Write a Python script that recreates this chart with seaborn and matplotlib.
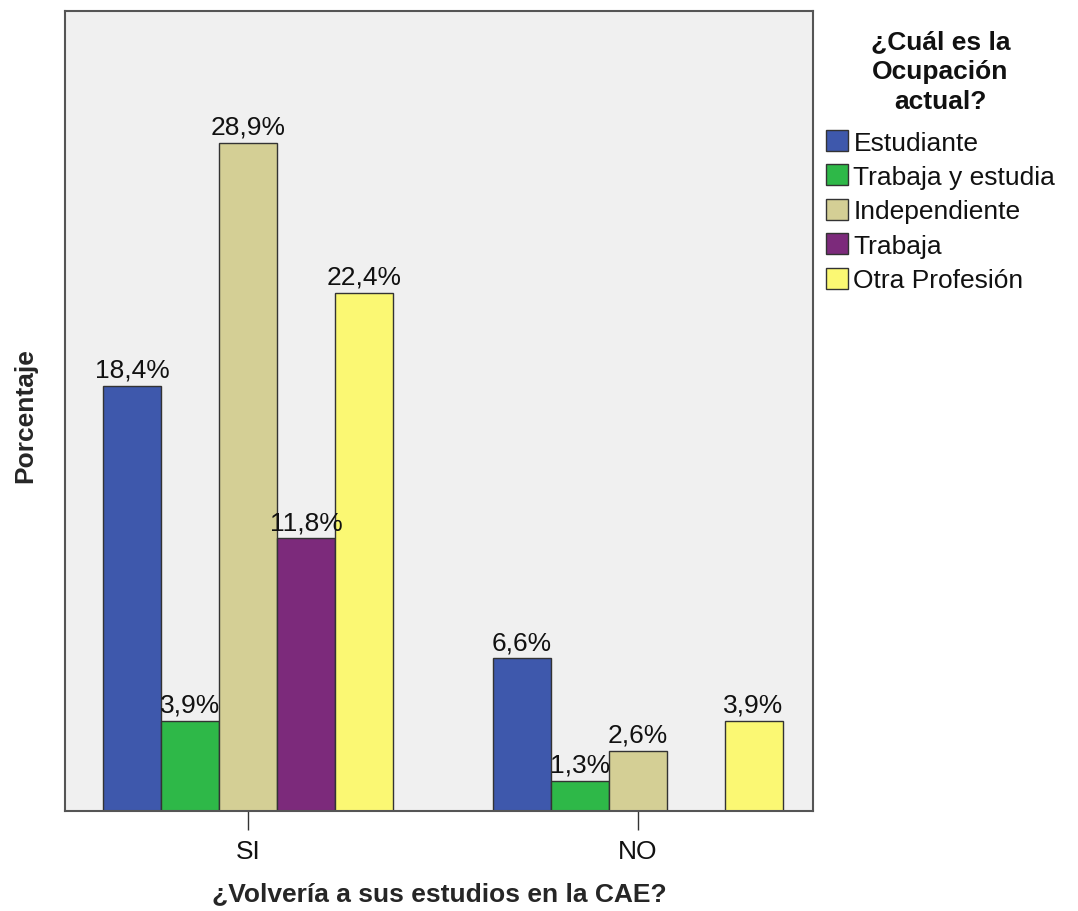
import numpy as np
import pandas as pd
import matplotlib
matplotlib.use("Agg")
import matplotlib.pyplot as plt
import seaborn as sns

groups = ["SI", "NO"]
occupations = ["Estudiante", "Trabaja y estudia", "Independiente", "Trabaja", "Otra Profesión"]
si_values = [18.4, 3.9, 28.9, 11.8, 22.4]
no_values = [6.6, 1.3, 2.6, np.nan, 3.9]
colors = ["#3e58ac", "#2eb848", "#d4cf95", "#7c2a7b", "#fbf873"]

rows = []
for g, vals in zip(groups, [si_values, no_values]):
    for o, v in zip(occupations, vals):
        rows.append({"grupo": g, "ocupacion": o, "pct": v})
df = pd.DataFrame(rows)

sns.set_theme(style="white")
plt.rcParams["font.family"] = ["Liberation Sans", "DejaVu Sans"]
plt.rcParams["text.color"] = "#111111"

fig = plt.figure(figsize=(10.78, 9.12), dpi=100)
ax = fig.add_axes([0.0603, 0.1096, 0.6938, 0.8772])
ax.set_facecolor("#f0f0f0")

sns.barplot(data=df, x="grupo", y="pct", hue="ocupacion", order=groups,
            hue_order=occupations, palette=colors, width=0.744,
            edgecolor="#333333", linewidth=1.0, saturation=1, ax=ax,
            legend=True)

for cont in ax.containers:
    labels = []
    for v in cont.datavalues:
        labels.append("" if np.isnan(v) else f"{v:.1f}%".replace(".", ","))
    ax.bar_label(cont, labels=labels, padding=3, fontsize=19, color="#111111")

ax.set_xlim(-0.47, 1.45)
ax.set_ylim(0, 34.6)
ax.set_yticks([])
ax.set_xlabel("¿Volvería a sus estudios en la CAE?", fontsize=19, fontweight="bold")
ax.set_ylabel("Porcentaje", fontsize=19, fontweight="bold")
ax.xaxis.set_label_coords(0.5, -0.088)
ax.yaxis.set_label_coords(-0.037, 0.495)
ax.tick_params(axis="x", length=14, width=1, color="#333333", labelsize=19,
               labelcolor="#111111", pad=6, bottom=True)
for s in ax.spines.values():
    s.set_color("#555555")
    s.set_linewidth(1.5)

leg = ax.get_legend()
handles = leg.legend_handles
leg.remove()
newleg = fig.legend(handles, occupations, title="¿Cuál es la\nOcupación\nactual?",
                    loc="upper left", bbox_to_anchor=(0.766, 0.967), frameon=False,
                    fontsize=19, title_fontproperties={"weight": "bold", "size": 19},
                    alignment="center",
                    handlelength=0.85, handleheight=0.85, handletextpad=0.2,
                    labelspacing=0.37, borderaxespad=0, borderpad=0)
t = newleg.get_title()
t.set_multialignment("center")
t.set_linespacing(1.32)
newleg._legend_box.sep = 12

fig.savefig("out.png", dpi=100)
